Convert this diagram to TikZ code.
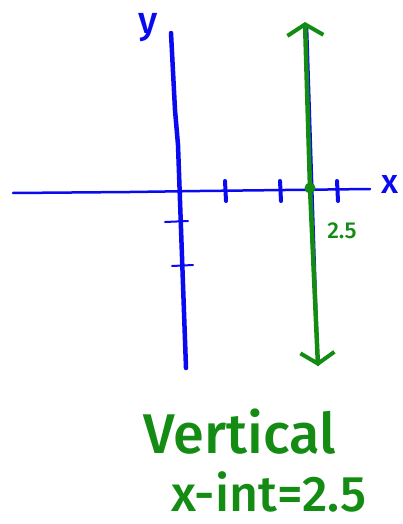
\documentclass[tikz,border=0pt]{standalone}
\usepackage{fontspec}
\setmainfont{Fira Sans}
\newfontfamily\penfont{Fira Sans Medium}
\usetikzlibrary{arrows.meta}
\definecolor{penblue}{RGB}{10,10,240}
\definecolor{pengreen}{RGB}{20,140,20}
\begin{document}
\begin{tikzpicture}[x=1pt,y=-1pt,line cap=round]
\useasboundingbox (0,0) rectangle (403,524);

% ---- axes ----
\begin{scope}[penblue]
    \draw[line width=2.5pt] (13,193) -- (130,192) -- (200,191) -- (370,189);
    \draw[line width=4.5pt] (171,33) -- (175,110) -- (178,145) -- (186,368);
    % ticks on x
    \foreach \x in {225,280,337} {
        \draw[line width=4pt] (\x,181) -- (\x+1,201);
    }
    % ticks on y
    \draw[line width=2pt] (165,222) -- (188,221);
    \draw[line width=2pt] (172,266) -- (193,265);
    \draw[line width=2.5pt] (307,25) -- (318,365);
\end{scope}
\node[penblue, font=\penfont\fontsize{38}{38}\selectfont] (ylab) at (148,28) {y};
\node[penblue, font=\penfont\fontsize{34}{34}\selectfont] (xlab) at (390,185) {x};

% ---- vertical line x = 2.5 ----
\draw[pengreen, line width=4.5pt,
      {Straight Barb[length=11pt,width=36pt,line width=4pt]}-{Straight Barb[length=11pt,width=34pt,line width=4pt]}]
    (305,22) -- (310,188) -- (318,366);
\fill[pengreen] (310,188) circle (5.5pt);
\node[pengreen, font=\penfont\fontsize{23}{23}\selectfont] (tick) at (342,231) {2.5};

% ---- caption ----
\node[pengreen, font=\penfont\fontsize{56}{56}\selectfont] (title) at (240,432) {Vertical};
\node[pengreen, font=\penfont\fontsize{50}{50}\selectfont] (xint) at (269,492) {x-int=2.5};

\end{tikzpicture}
\end{document}
